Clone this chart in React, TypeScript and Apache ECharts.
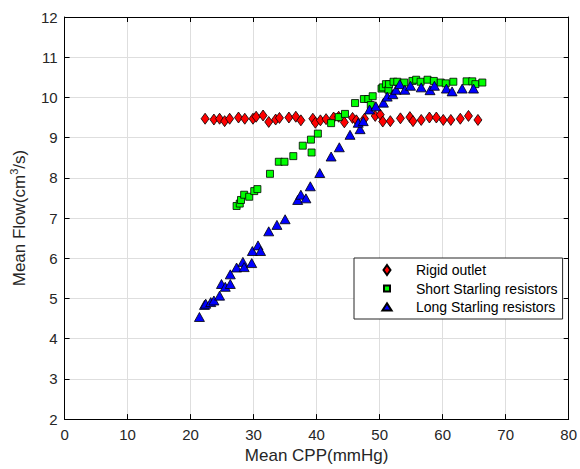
import React, { useEffect, useRef } from "react";
import * as echarts from "echarts";

const seriesNames = ["Rigid outlet", "Short Starling resistors", "Long Starling resistors"];

const rigidOutlet: [number, number][] = [
  [22.3, 9.47], [23.7, 9.45], [24.6, 9.47], [25.4, 9.41], [26.2, 9.47], [27.6, 9.5],
  [28.6, 9.47], [29.9, 9.47], [30.4, 9.52], [31.5, 9.55], [32.4, 9.39], [33.5, 9.45],
  [34.1, 9.49], [35.6, 9.5], [36.7, 9.52], [37.5, 9.43], [39.4, 9.47], [39.8, 9.37],
  [40.6, 9.43], [41.5, 9.46], [42.7, 9.5], [43.5, 9.52], [44.4, 9.38], [45.7, 9.49],
  [46.3, 9.43], [47.6, 9.47], [49.3, 9.54], [50.1, 9.57], [50.5, 9.4], [51.7, 9.41],
  [53.3, 9.48], [54.8, 9.51], [55.3, 9.41], [56.6, 9.44], [57.9, 9.5], [59.0, 9.5],
  [60.1, 9.44], [61.3, 9.44], [62.8, 9.47], [64.1, 9.54], [65.6, 9.44],
];

const shortStarling: [number, number][] = [
  [27.3, 7.3], [27.8, 7.36], [28.0, 7.45], [28.5, 7.58], [29.3, 7.53], [30.1, 7.67],
  [30.6, 7.72], [32.6, 8.1], [34.0, 8.4], [34.9, 8.4], [36.3, 8.54], [37.8, 8.8],
  [39.2, 8.63], [39.1, 8.95], [40.2, 9.1], [42.3, 9.36], [43.5, 9.51], [44.5, 9.59],
  [46.1, 9.86], [47.5, 9.96], [48.2, 9.96], [48.6, 9.81], [48.9, 10.03], [50.3, 10.22],
  [50.5, 10.25], [51.0, 10.33], [51.4, 10.19], [51.5, 10.33], [52.2, 10.39], [52.8, 10.39],
  [53.9, 10.37], [55.2, 10.41], [55.8, 10.44], [56.5, 10.39], [57.6, 10.44], [58.6, 10.41],
  [59.7, 10.37], [60.5, 10.35], [61.7, 10.39], [63.8, 10.4], [64.7, 10.4], [65.2, 10.33],
  [66.3, 10.37],
];

const longStarling: [number, number][] = [
  [21.4, 4.54], [22.2, 4.84], [22.4, 4.87], [23.2, 4.91], [23.7, 4.95], [24.6, 5.07],
  [24.9, 5.36], [25.5, 5.29], [26.3, 5.36], [26.3, 5.6], [27.3, 5.77], [28.3, 5.91],
  [28.5, 5.78], [29.7, 5.88], [29.8, 6.18], [30.7, 6.32], [31.1, 6.18], [32.4, 6.67],
  [33.7, 6.83], [35.0, 6.97], [37.0, 7.45], [37.5, 7.58], [38.3, 7.49], [39.0, 7.79],
  [40.5, 8.12], [42.3, 8.53], [43.6, 8.76], [45.3, 9.07], [46.9, 9.21], [46.6, 9.37],
  [47.4, 9.41], [48.4, 9.7], [49.4, 9.78], [50.6, 9.87], [51.2, 10.02], [52.1, 10.08],
  [52.6, 10.19], [53.2, 10.33], [54.0, 10.19], [54.9, 10.29], [56.6, 10.25], [58.0, 10.18],
  [58.7, 10.29], [60.6, 10.22], [61.5, 10.15], [63.1, 10.22], [64.9, 10.22],
];

const xTicks = { min: 0, max: 80, interval: 10 };
const yTicks = { min: 2, max: 12, interval: 1 };

const FONT = "'Liberation Sans', Arial, Helvetica, sans-serif";
const AXIS_COLOR = "#000";
const TEXT_COLOR = "#262626";
const GRID_COLOR = "#dedede";

export default function App() {
  const ref = useRef<HTMLDivElement>(null);

  useEffect(() => {
    if (!ref.current) return;
    const chart = echarts.init(ref.current, null, { renderer: "svg" });

    const tickAxisBase = {
      type: "value" as const,
      axisLine: { show: true, onZero: false, lineStyle: { color: AXIS_COLOR, width: 1 } },
      axisTick: { show: true, inside: true, length: 5, lineStyle: { color: AXIS_COLOR } },
    };

    chart.setOption({
      animation: false,
      textStyle: { fontFamily: FONT },
      grid: { left: 58, right: 9, top: 17, bottom: 45, containLabel: false },
      xAxis: [
        {
          ...tickAxisBase,
          ...xTicks,
          position: "bottom",
          name: "Mean CPP(mmHg)",
          nameLocation: "middle",
          nameGap: 23,
          nameTextStyle: { fontSize: 17, color: TEXT_COLOR, fontFamily: FONT },
          axisLabel: { fontSize: 15, color: TEXT_COLOR, margin: 8, fontFamily: FONT },
          splitLine: { show: true, lineStyle: { color: GRID_COLOR, width: 1 } },
        },
        {
          ...tickAxisBase,
          ...xTicks,
          position: "top",
          axisLabel: { show: false },
          splitLine: { show: false },
        },
      ],
      yAxis: [
        {
          ...tickAxisBase,
          ...yTicks,
          position: "left",
          name: "Mean Flow(cm{sup|3}/s)",
          nameLocation: "middle",
          nameGap: 25,
          nameTextStyle: {
            fontSize: 17,
            color: TEXT_COLOR,
            fontFamily: FONT,
            lineHeight: 22,
            rich: {
              sup: { fontSize: 11, lineHeight: 13, verticalAlign: "top", color: TEXT_COLOR, fontFamily: FONT },
            },
          },
          axisLabel: { fontSize: 15, color: TEXT_COLOR, margin: 7, fontFamily: FONT },
          splitLine: { show: true, lineStyle: { color: GRID_COLOR, width: 1 } },
        },
        {
          ...tickAxisBase,
          ...yTicks,
          position: "right",
          axisLabel: { show: false },
          splitLine: { show: false },
        },
      ],
      legend: {
        orient: "vertical",
        left: 354,
        top: 258,
        padding: [5, 5, 5, 27],
        itemWidth: 48,
        itemHeight: 10,
        itemGap: 4.5,
        borderColor: "#262626",
        borderWidth: 1,
        backgroundColor: "#fff",
        textStyle: { fontSize: 14, color: "#000", fontFamily: FONT },
        data: [
          { name: seriesNames[0], icon: "path://M0,-5L3.5,0L0,5L-3.5,0Z" },
          { name: seriesNames[1], icon: "path://M-5,-5M5,5M-3,-3L3,-3L3,3L-3,3Z" },
          { name: seriesNames[2], icon: "path://M-5,-5M5,5M0,-3.7L4.6,3.5L-4.6,3.5Z" },
        ],
      },
      series: [
        {
          type: "scatter",
          name: seriesNames[0],
          data: rigidOutlet,
          symbol: "diamond",
          symbolSize: [8, 11],
          itemStyle: { color: "#ff0000", borderColor: "#000", borderWidth: 0.8, opacity: 1 },
        },
        {
          type: "scatter",
          name: seriesNames[1],
          data: shortStarling,
          symbol: "rect",
          symbolSize: [7, 7],
          itemStyle: { color: "#00ff00", borderColor: "#000", borderWidth: 0.8, opacity: 1 },
        },
        {
          type: "scatter",
          name: seriesNames[2],
          data: longStarling,
          symbol: "triangle",
          symbolSize: [10, 9],
          itemStyle: { color: "#0000ff", borderColor: "#000", borderWidth: 0.8, opacity: 1 },
        },
      ],
    });

    return () => chart.dispose();
  }, []);

  return <div ref={ref} style={{ width: 580, height: 469, position: "absolute", left: 0, top: 0 }} />;
}
